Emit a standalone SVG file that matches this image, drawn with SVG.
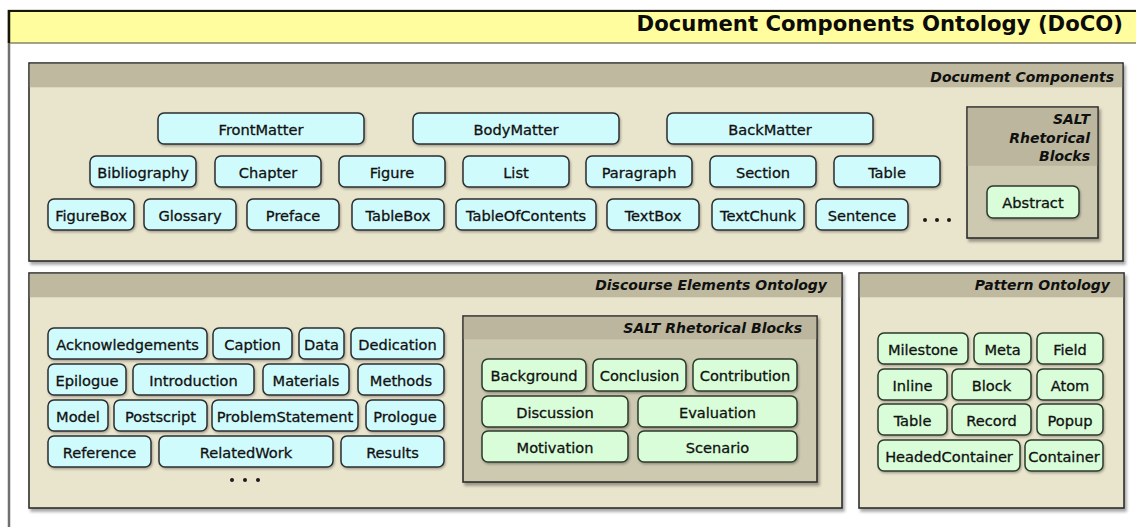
<svg xmlns="http://www.w3.org/2000/svg" width="1136" height="527" viewBox="0 0 1136 527">
  <defs>
    <filter id="panelShadow" x="-5%" y="-5%" width="110%" height="115%">
      <feDropShadow dx="2" dy="3" stdDeviation="1.8" flood-color="#000" flood-opacity="0.35"/>
    </filter>
    <filter id="nodeShadow" x="-10%" y="-20%" width="125%" height="150%">
      <feDropShadow dx="1" dy="1.5" stdDeviation="0.9" flood-color="#000" flood-opacity="0.3"/>
    </filter>
    <style>
      .frame { fill: #ffffff; stroke: #707070; stroke-width: 2.5; }
      .titlebar { fill: #fffd9d; }
      .panel { fill: #e9e4cc; stroke: #2e2e2e; stroke-width: 1.6; filter: url(#panelShadow); }
      .panel-head { fill: #bfba9f; }
      .subpanel { fill: #cdc8b0; stroke: #2e2e2e; stroke-width: 1.6; filter: url(#panelShadow); }
      .subpanel-head { fill: #bbb69d; }
      .node rect { stroke-width: 1.5; filter: url(#nodeShadow); }
      .cyan rect { fill: #d0fbfd; stroke: #2b2f30; }
      .green rect { fill: #d8fdd8; stroke: #2c3a2c; }
      .node text { font-family: "DejaVu Sans", "Liberation Sans", sans-serif; font-size: 14.6px; fill: #111; stroke: #111; stroke-width: 0.3; text-anchor: middle; }
      .title { font-family: "DejaVu Sans", "Liberation Sans", sans-serif; font-weight: bold; font-size: 21.2px; fill: #0c0c0c; text-anchor: end; }
      .ptitle { font-family: "DejaVu Sans", "Liberation Sans", sans-serif; font-weight: bold; font-style: italic; font-size: 14px; fill: #101010; text-anchor: end; }
      .dot { fill: #1a1a1a; }
    </style>
  </defs>

  <!-- outer frame with title bar -->
  <g id="frame">
    <rect class="frame" x="9" y="11" width="1140" height="530"/>
    <rect class="titlebar" x="10" y="12" width="1130" height="31"/>
    <line x1="8" y1="11" x2="1136" y2="11" stroke="#161608" stroke-width="2.2"/>
    <line x1="9" y1="10" x2="9" y2="43" stroke="#161608" stroke-width="2.5"/>
    <line x1="10" y1="43" x2="1136" y2="43" stroke="#86846a" stroke-width="1.5"/>
    <text class="title" x="1123" y="31">Document Components Ontology (DoCO)</text>
  </g>

  <!-- Document Components panel -->
  <g id="document-components">
    <rect class="panel" x="29" y="63" width="1094" height="198"/>
    <rect class="panel-head" x="29.8" y="63.8" width="1092.4" height="23.5"/>
    <text class="ptitle" x="1114" y="82">Document Components</text>

    <g id="dc-salt">
      <rect class="subpanel" x="967" y="107" width="131" height="131"/>
      <rect class="subpanel-head" x="967.8" y="107.8" width="129.4" height="58"/>
      <text class="ptitle" x="1090" y="124">SALT</text>
      <text class="ptitle" x="1090" y="143">Rhetorical</text>
      <text class="ptitle" x="1090" y="161">Blocks</text>
    </g>

    <circle class="dot" cx="925" cy="220" r="2"/>
    <circle class="dot" cx="937" cy="220" r="2"/>
    <circle class="dot" cx="949" cy="220" r="2"/>
  </g>

  <g id="node-FrontMatter" class="node cyan"><rect x="158" y="113" width="206" height="31" rx="6"/><text x="261" y="134.5">FrontMatter</text></g>
  <g id="node-BodyMatter" class="node cyan"><rect x="413" y="113" width="206" height="31" rx="6"/><text x="516" y="134.5">BodyMatter</text></g>
  <g id="node-BackMatter" class="node cyan"><rect x="667" y="113" width="206" height="31" rx="6"/><text x="770" y="134.5">BackMatter</text></g>

  <g id="node-Bibliography" class="node cyan"><rect x="90" y="156" width="106" height="31" rx="6"/><text x="143" y="177.5">Bibliography</text></g>
  <g id="node-Chapter" class="node cyan"><rect x="215" y="156" width="106" height="31" rx="6"/><text x="268" y="177.5">Chapter</text></g>
  <g id="node-Figure" class="node cyan"><rect x="339" y="156" width="106" height="31" rx="6"/><text x="392" y="177.5">Figure</text></g>
  <g id="node-List" class="node cyan"><rect x="463" y="156" width="106" height="31" rx="6"/><text x="516" y="177.5">List</text></g>
  <g id="node-Paragraph" class="node cyan"><rect x="586" y="156" width="106" height="31" rx="6"/><text x="639" y="177.5">Paragraph</text></g>
  <g id="node-Section" class="node cyan"><rect x="710" y="156" width="106" height="31" rx="6"/><text x="763" y="177.5">Section</text></g>
  <g id="node-Table" class="node cyan"><rect x="834" y="156" width="106" height="31" rx="6"/><text x="887" y="177.5">Table</text></g>

  <g id="node-FigureBox" class="node cyan"><rect x="48" y="199" width="86" height="31" rx="6"/><text x="91" y="220.5">FigureBox</text></g>
  <g id="node-Glossary" class="node cyan"><rect x="144" y="199" width="92" height="31" rx="6"/><text x="190" y="220.5">Glossary</text></g>
  <g id="node-Preface" class="node cyan"><rect x="247" y="199" width="92" height="31" rx="6"/><text x="293" y="220.5">Preface</text></g>
  <g id="node-TableBox" class="node cyan"><rect x="352" y="199" width="92" height="31" rx="6"/><text x="398" y="220.5">TableBox</text></g>
  <g id="node-TableOfContents" class="node cyan"><rect x="456" y="199" width="140" height="31" rx="6"/><text x="526" y="220.5">TableOfContents</text></g>
  <g id="node-TextBox" class="node cyan"><rect x="607" y="199" width="92" height="31" rx="6"/><text x="653" y="220.5">TextBox</text></g>
  <g id="node-TextChunk" class="node cyan"><rect x="712" y="199" width="92" height="31" rx="6"/><text x="758" y="220.5">TextChunk</text></g>
  <g id="node-Sentence" class="node cyan"><rect x="816" y="199" width="92" height="31" rx="6"/><text x="862" y="220.5">Sentence</text></g>

  <g id="node-Abstract" class="node green"><rect x="987" y="186" width="92" height="32" rx="6"/><text x="1033" y="207.5">Abstract</text></g>

  <!-- Discourse Elements Ontology panel -->
  <g id="discourse-elements">
    <rect class="panel" x="29" y="273" width="813" height="235"/>
    <rect class="panel-head" x="29.8" y="273.8" width="811.4" height="23.5"/>
    <text class="ptitle" x="827" y="290">Discourse Elements Ontology</text>

    <g id="deo-salt">
      <rect class="subpanel" x="463" y="316" width="354" height="166"/>
      <rect class="subpanel-head" x="463.8" y="316.8" width="352.4" height="22.5"/>
      <text class="ptitle" x="802" y="333">SALT Rhetorical Blocks</text>
    </g>

    <circle class="dot" cx="232" cy="480" r="2"/>
    <circle class="dot" cx="245" cy="480" r="2"/>
    <circle class="dot" cx="258" cy="480" r="2"/>
  </g>

  <g id="node-Acknowledgements" class="node cyan"><rect x="48" y="328" width="159" height="31" rx="6"/><text x="127.5" y="349.5">Acknowledgements</text></g>
  <g id="node-Caption" class="node cyan"><rect x="213" y="328" width="79" height="31" rx="6"/><text x="252.5" y="349.5">Caption</text></g>
  <g id="node-Data" class="node cyan"><rect x="299" y="328" width="45" height="31" rx="6"/><text x="321.5" y="349.5">Data</text></g>
  <g id="node-Dedication" class="node cyan"><rect x="351" y="328" width="93" height="31" rx="6"/><text x="397.5" y="349.5">Dedication</text></g>

  <g id="node-Epilogue" class="node cyan"><rect x="48" y="364" width="78" height="31" rx="6"/><text x="87" y="385.5">Epilogue</text></g>
  <g id="node-Introduction" class="node cyan"><rect x="133" y="364" width="121" height="31" rx="6"/><text x="193.5" y="385.5">Introduction</text></g>
  <g id="node-Materials" class="node cyan"><rect x="263" y="364" width="86" height="31" rx="6"/><text x="306" y="385.5">Materials</text></g>
  <g id="node-Methods" class="node cyan"><rect x="358" y="364" width="86" height="31" rx="6"/><text x="401" y="385.5">Methods</text></g>

  <g id="node-Model" class="node cyan"><rect x="48" y="400" width="60" height="31" rx="6"/><text x="78" y="421.5">Model</text></g>
  <g id="node-Postscript" class="node cyan"><rect x="114" y="400" width="93" height="31" rx="6"/><text x="160.5" y="421.5">Postscript</text></g>
  <g id="node-ProblemStatement" class="node cyan"><rect x="212" y="400" width="146" height="31" rx="6"/><text x="285" y="421.5">ProblemStatement</text></g>
  <g id="node-Prologue" class="node cyan"><rect x="366" y="400" width="78" height="31" rx="6"/><text x="405" y="421.5">Prologue</text></g>

  <g id="node-Reference" class="node cyan"><rect x="48" y="436" width="103" height="31" rx="6"/><text x="99.5" y="457.5">Reference</text></g>
  <g id="node-RelatedWork" class="node cyan"><rect x="159" y="436" width="174" height="31" rx="6"/><text x="246" y="457.5">RelatedWork</text></g>
  <g id="node-Results" class="node cyan"><rect x="341" y="436" width="103" height="31" rx="6"/><text x="392.5" y="457.5">Results</text></g>

  <g id="node-Background" class="node green"><rect x="482" y="359" width="104" height="32" rx="6"/><text x="534" y="380.5">Background</text></g>
  <g id="node-Conclusion" class="node green"><rect x="593" y="359" width="93" height="32" rx="6"/><text x="639.5" y="380.5">Conclusion</text></g>
  <g id="node-Contribution" class="node green"><rect x="693" y="359" width="104" height="32" rx="6"/><text x="745" y="380.5">Contribution</text></g>
  <g id="node-Discussion" class="node green"><rect x="482" y="396" width="146" height="31" rx="6"/><text x="555" y="417.5">Discussion</text></g>
  <g id="node-Evaluation" class="node green"><rect x="638" y="396" width="159" height="31" rx="6"/><text x="717.5" y="417.5">Evaluation</text></g>
  <g id="node-Motivation" class="node green"><rect x="482" y="431" width="146" height="31" rx="6"/><text x="555" y="452.5">Motivation</text></g>
  <g id="node-Scenario" class="node green"><rect x="638" y="431" width="159" height="31" rx="6"/><text x="717.5" y="452.5">Scenario</text></g>

  <!-- Pattern Ontology panel -->
  <g id="pattern-ontology">
    <rect class="panel" x="859" y="273" width="265" height="235"/>
    <rect class="panel-head" x="859.8" y="273.8" width="263.4" height="23.5"/>
    <text class="ptitle" x="1110" y="290">Pattern Ontology</text>
  </g>

  <g id="node-Milestone" class="node green"><rect x="878" y="333" width="90" height="31" rx="6"/><text x="923" y="354.5">Milestone</text></g>
  <g id="node-Meta" class="node green"><rect x="974" y="333" width="57" height="31" rx="6"/><text x="1002.5" y="354.5">Meta</text></g>
  <g id="node-Field" class="node green"><rect x="1037" y="333" width="66" height="31" rx="6"/><text x="1070" y="354.5">Field</text></g>
  <g id="node-Inline" class="node green"><rect x="878" y="369" width="69" height="31" rx="6"/><text x="912.5" y="390.5">Inline</text></g>
  <g id="node-Block" class="node green"><rect x="952" y="369" width="79" height="31" rx="6"/><text x="991.5" y="390.5">Block</text></g>
  <g id="node-Atom" class="node green"><rect x="1037" y="369" width="66" height="31" rx="6"/><text x="1070" y="390.5">Atom</text></g>
  <g id="node-PatternTable" class="node green"><rect x="878" y="404" width="69" height="31" rx="6"/><text x="912.5" y="425.5">Table</text></g>
  <g id="node-Record" class="node green"><rect x="952" y="404" width="79" height="31" rx="6"/><text x="991.5" y="425.5">Record</text></g>
  <g id="node-Popup" class="node green"><rect x="1037" y="404" width="66" height="31" rx="6"/><text x="1070" y="425.5">Popup</text></g>
  <g id="node-HeadedContainer" class="node green"><rect x="878" y="440" width="142" height="31" rx="6"/><text x="949" y="461.5">HeadedContainer</text></g>
  <g id="node-Container" class="node green"><rect x="1025" y="440" width="78" height="31" rx="6"/><text x="1064" y="461.5">Container</text></g>
</svg>
